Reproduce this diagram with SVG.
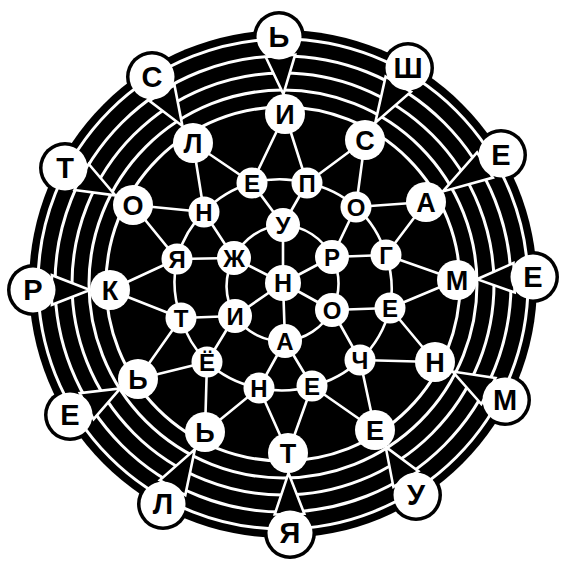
<svg xmlns="http://www.w3.org/2000/svg" width="566" height="563" viewBox="0 0 566 563">
<style>
.bg{fill:#fff}
.halo{fill:#000}
.disk{fill:#000}
.ring{fill:none;stroke:#fff;stroke-width:3}
.v{fill:#000;stroke:#fff;stroke-width:2.6;stroke-linejoin:miter}
.e{fill:none;stroke:#fff;stroke-width:2.6;stroke-linecap:round}
.n circle{fill:#fff}
.n text{font-family:"Liberation Sans",Arial,sans-serif;font-weight:bold;fill:#000;text-anchor:middle}
.o text{font-size:29px}
.r3 text{font-size:27px}
.r2 text{font-size:24px}
.r1 text{font-size:24px}
.c text{font-size:25px}
</style>
<rect class="bg" x="0" y="0" width="566" height="563"/>
<g id="rim">
<circle class="halo" cx="279" cy="37" r="26"/>
<circle class="halo" cx="408" cy="68" r="26"/>
<circle class="halo" cx="501" cy="155" r="26"/>
<circle class="halo" cx="533" cy="277" r="26"/>
<circle class="halo" cx="505" cy="400" r="26"/>
<circle class="halo" cx="416" cy="495" r="26"/>
<circle class="halo" cx="290" cy="533" r="26"/>
<circle class="halo" cx="163" cy="504" r="26"/>
<circle class="halo" cx="70" cy="415" r="26"/>
<circle class="halo" cx="33" cy="290" r="26"/>
<circle class="halo" cx="65" cy="168" r="26"/>
<circle class="halo" cx="152" cy="77" r="26"/>
<circle class="disk" cx="283" cy="284" r="254"/>
<circle class="ring" cx="283" cy="284" r="245"/>
<circle class="ring" cx="283" cy="284" r="228"/>
<circle class="ring" cx="283" cy="284" r="211"/>
<circle class="ring" cx="283" cy="284" r="194"/>
<circle class="ring" cx="283" cy="284" r="177"/>
</g>
<g id="connectors">
<polygon class="v" points="265.7,57 295.2,54.7 283.4,94.1"/>
<polygon class="v" points="385.6,76.6 411,91.8 375.3,122.8"/>
<polygon class="v" points="477.1,152.5 492.9,177.6 442.9,191.4"/>
<polygon class="v" points="513.5,263 514.7,292.5 477,279.2"/>
<polygon class="v" points="495.5,378 481.3,404 452.6,371.5"/>
<polygon class="v" points="418.4,471.1 393.4,486.9 385.7,446.9"/>
<polygon class="v" points="304.3,513.7 274.7,514.5 288.5,473"/>
<polygon class="v" points="185.3,495.1 159.7,480.2 194.9,449.3"/>
<polygon class="v" points="93.6,419.2 79.8,393.1 120.3,388.4"/>
<polygon class="v" points="51.9,304.8 51.9,275.2 90,290"/>
<polygon class="v" points="74.5,190 88.7,164 115.4,195.4"/>
<polygon class="v" points="149.4,100.9 174.5,85.2 182.4,126"/>
<path class="e" d="M283 283L283 225M283 283L332 257M283 283L332 310M283 283L285 341M283 283L235 316M283 283L234 258"/>
<path class="e" d="M283 225A57 57 0 0 1 332 257A57 57 0 0 1 332 310A57 57 0 0 1 285 341A57 57 0 0 1 235 316A57 57 0 0 1 234 258A57 57 0 0 1 283 225"/>
<path class="e" d="M283 225L252 183M283 225L307 183M332 257L356 207M332 257L386 255M332 310L390 308M332 310L360 360M285 341L312 386M285 341L259 388M235 316L207 362M235 316L181 318M234 258L177 259M234 258L204 212"/>
<path class="e" d="M252 183A105 105 0 0 1 307 183A105 105 0 0 1 356 207A105 105 0 0 1 386 255A105 105 0 0 1 390 308A105 105 0 0 1 360 360A105 105 0 0 1 312 386A105 105 0 0 1 259 388A105 105 0 0 1 207 362A105 105 0 0 1 181 318A105 105 0 0 1 177 259A105 105 0 0 1 204 212A105 105 0 0 1 252 183"/>
<path class="e" d="M285 114L252 183M285 114L307 183M365 140L307 183M365 140L356 207M426 202L356 207M426 202L386 255M457 280L386 255M457 280L390 308M435 362L390 308M435 362L360 360M375 430L360 360M375 430L312 386M288 453L312 386M288 453L259 388M205 432L259 388M205 432L207 362M138 379L207 362M138 379L181 318M110 290L181 318M110 290L177 259M133 205L177 259M133 205L204 212M193 143L204 212M193 143L252 183"/>
</g>
<g id="c-center" class="n c"><circle cx="283" cy="283" r="18"/><text x="283" y="283" dy=".36em">Н</text></g>
<g id="r1-u" class="n r1"><circle cx="283" cy="225" r="17"/><text x="283" y="225" dy=".36em">У</text></g>
<g id="r1-r" class="n r1"><circle cx="332" cy="257" r="17"/><text x="332" y="257" dy=".36em">Р</text></g>
<g id="r1-o" class="n r1"><circle cx="332" cy="310" r="17"/><text x="332" y="310" dy=".36em">О</text></g>
<g id="r1-a" class="n r1"><circle cx="285" cy="341" r="17"/><text x="285" y="341" dy=".36em">А</text></g>
<g id="r1-i" class="n r1"><circle cx="235" cy="316" r="17"/><text x="235" y="316" dy=".36em">И</text></g>
<g id="r1-zh" class="n r1"><circle cx="234" cy="258" r="17"/><text x="234" y="258" dy=".36em">Ж</text></g>
<g id="r2-1" class="n r2"><circle cx="252" cy="183" r="15.5"/><text x="252" y="183" dy=".36em">Е</text></g>
<g id="r2-2" class="n r2"><circle cx="307" cy="183" r="15.5"/><text x="307" y="183" dy=".36em">П</text></g>
<g id="r2-3" class="n r2"><circle cx="356" cy="207" r="15.5"/><text x="356" y="207" dy=".36em">О</text></g>
<g id="r2-4" class="n r2"><circle cx="386" cy="255" r="15.5"/><text x="386" y="255" dy=".36em">Г</text></g>
<g id="r2-5" class="n r2"><circle cx="390" cy="308" r="15.5"/><text x="390" y="308" dy=".36em">Е</text></g>
<g id="r2-6" class="n r2"><circle cx="360" cy="360" r="15.5"/><text x="360" y="360" dy=".36em">Ч</text></g>
<g id="r2-7" class="n r2"><circle cx="312" cy="386" r="15.5"/><text x="312" y="386" dy=".36em">Е</text></g>
<g id="r2-8" class="n r2"><circle cx="259" cy="388" r="15.5"/><text x="259" y="388" dy=".36em">Н</text></g>
<g id="r2-9" class="n r2"><circle cx="207" cy="362" r="15.5"/><text x="207" y="362" dy=".36em">Ё</text></g>
<g id="r2-10" class="n r2"><circle cx="181" cy="318" r="15.5"/><text x="181" y="318" dy=".36em">Т</text></g>
<g id="r2-11" class="n r2"><circle cx="177" cy="259" r="15.5"/><text x="177" y="259" dy=".36em">Я</text></g>
<g id="r2-12" class="n r2"><circle cx="204" cy="212" r="15.5"/><text x="204" y="212" dy=".36em">Н</text></g>
<g id="r3-1" class="n r3"><circle cx="285" cy="114" r="20"/><text x="285" y="114" dy=".36em">И</text></g>
<g id="r3-2" class="n r3"><circle cx="365" cy="140" r="20"/><text x="365" y="140" dy=".36em">С</text></g>
<g id="r3-3" class="n r3"><circle cx="426" cy="202" r="20"/><text x="426" y="202" dy=".36em">А</text></g>
<g id="r3-4" class="n r3"><circle cx="457" cy="280" r="20"/><text x="457" y="280" dy=".36em">М</text></g>
<g id="r3-5" class="n r3"><circle cx="435" cy="362" r="20"/><text x="435" y="362" dy=".36em">Н</text></g>
<g id="r3-6" class="n r3"><circle cx="375" cy="430" r="20"/><text x="375" y="430" dy=".36em">Е</text></g>
<g id="r3-7" class="n r3"><circle cx="288" cy="453" r="20"/><text x="288" y="453" dy=".36em">Т</text></g>
<g id="r3-8" class="n r3"><circle cx="205" cy="432" r="20"/><text x="205" y="432" dy=".36em">Ь</text></g>
<g id="r3-9" class="n r3"><circle cx="138" cy="379" r="20"/><text x="138" y="379" dy=".36em">Ь</text></g>
<g id="r3-10" class="n r3"><circle cx="110" cy="290" r="20"/><text x="110" y="290" dy=".36em">К</text></g>
<g id="r3-11" class="n r3"><circle cx="133" cy="205" r="20"/><text x="133" y="205" dy=".36em">О</text></g>
<g id="r3-12" class="n r3"><circle cx="193" cy="143" r="20"/><text x="193" y="143" dy=".36em">Л</text></g>
<g id="o-1" class="n o"><circle cx="279" cy="37" r="22.5"/><text x="279" y="37" dy=".36em">Ь</text></g>
<g id="o-2" class="n o"><circle cx="408" cy="68" r="22.5"/><text x="408" y="68" dy=".36em">Ш</text></g>
<g id="o-3" class="n o"><circle cx="501" cy="155" r="22.5"/><text x="501" y="155" dy=".36em">Е</text></g>
<g id="o-4" class="n o"><circle cx="533" cy="277" r="22.5"/><text x="533" y="277" dy=".36em">Е</text></g>
<g id="o-5" class="n o"><circle cx="505" cy="400" r="22.5"/><text x="505" y="400" dy=".36em">М</text></g>
<g id="o-6" class="n o"><circle cx="416" cy="495" r="22.5"/><text x="416" y="495" dy=".36em">У</text></g>
<g id="o-7" class="n o"><circle cx="290" cy="533" r="22.5"/><text x="290" y="533" dy=".36em">Я</text></g>
<g id="o-8" class="n o"><circle cx="163" cy="504" r="22.5"/><text x="163" y="504" dy=".36em">Л</text></g>
<g id="o-9" class="n o"><circle cx="70" cy="415" r="22.5"/><text x="70" y="415" dy=".36em">Е</text></g>
<g id="o-10" class="n o"><circle cx="33" cy="290" r="22.5"/><text x="33" y="290" dy=".36em">Р</text></g>
<g id="o-11" class="n o"><circle cx="65" cy="168" r="22.5"/><text x="65" y="168" dy=".36em">Т</text></g>
<g id="o-12" class="n o"><circle cx="152" cy="77" r="22.5"/><text x="152" y="77" dy=".36em">С</text></g>
</svg>
